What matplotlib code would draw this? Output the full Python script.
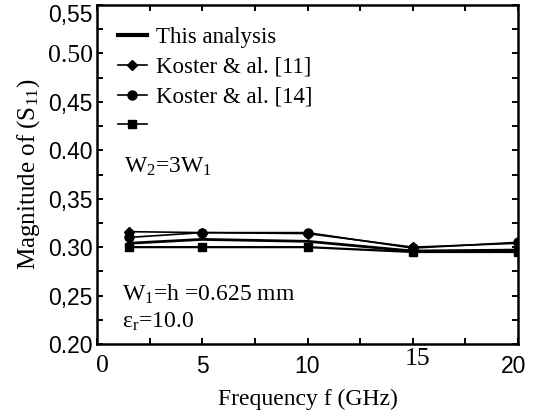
import matplotlib

matplotlib.use("Agg")
import matplotlib.pyplot as plt
from matplotlib.lines import Line2D
from matplotlib.transforms import ScaledTranslation

# values
freq = [1.5, 5, 10, 15, 20]
this_analysis = [0.304, 0.308, 0.306, 0.296, 0.297]
koster_11 = [0.316, 0.315, 0.314, 0.300, 0.304]
koster_14 = [0.310, 0.315, 0.315, 0.299, 0.305]
fourth = [0.300, 0.300, 0.300, 0.295, 0.295]

x_ticks = [0, 5, 10, 15, 20]
x_labels = ["0", "5", "10", "15", "20"]
y_ticks = [0.20, 0.25, 0.30, 0.35, 0.40, 0.45, 0.50, 0.55]
y_labels = ["0.20", "0,25", "0.30", "0,35", "0.40", "0,45", "0.50", "0,55"]

SERIF = "Liberation Serif"
SANS = "Liberation Sans"

plt.rcParams["font.family"] = SERIF
plt.rcParams["mathtext.fontset"] = "custom"
plt.rcParams["mathtext.rm"] = SERIF
plt.rcParams["mathtext.it"] = SERIF + ":italic"


def nudge(label, dx_px, dy_px):
    # shift a tick label by a few pixels, like in the original scan
    label.set_transform(label.get_transform()
                        + ScaledTranslation(dx_px / 100, dy_px / 100,
                                            fig.dpi_scale_trans))


fig = plt.figure(figsize=(5.42, 4.17), dpi=100)
ax = fig.add_axes([97 / 542, 73 / 417, 421 / 542, 339 / 417])

ax.plot(freq, koster_11, color="black", lw=1.2, marker="D", ms=5)
ax.plot(freq, koster_14, color="black", lw=1.2, marker="o", ms=6.5)
ax.plot(freq, this_analysis, color="black", lw=2.0)
ax.plot(freq, fourth, color="black", lw=1.6, marker="s", ms=6)

ax.set_xlim(0, 20)
ax.set_ylim(0.20, 0.55)

for s in ax.spines.values():
    s.set_linewidth(1.8)

ax.set_xticks(x_ticks, x_labels)
ax.set_xticks([2.5, 7.5, 12.5, 17.5], minor=True)
ax.set_yticks(y_ticks, y_labels)
ax.set_yticks([0.225, 0.275, 0.325, 0.375, 0.425, 0.475, 0.525], minor=True)
ax.tick_params(which="both", direction="in", top=True, right=True,
               length=4, width=1.4, labelsize=16.5)
ax.tick_params(axis="x", pad=8)
ax.tick_params(axis="y", pad=3)

# the original mixes fonts in the tick labels
for lab in ax.get_yticklabels():
    if lab.get_text() == "0.50":
        lab.set_fontfamily(SERIF)
        lab.set_fontsize(18.5)
    else:
        lab.set_fontfamily(SANS)
    if lab.get_text() == "0,55":
        nudge(lab, 0, -8)
for lab in ax.get_xticklabels():
    if lab.get_text() in ("0", "15"):
        lab.set_fontfamily(SERIF)
        lab.set_fontsize(18.5)
    else:
        lab.set_fontfamily(SANS)
    if lab.get_text() == "0":
        nudge(lab, 5, 0)
    if lab.get_text() == "15":
        nudge(lab, 5, 7)
    if lab.get_text() == "20":
        nudge(lab, -4, 0)

ax.set_xlabel("Frequency f (GHz)", fontsize=17, labelpad=8)
ax.set_ylabel(r"Magnitude of (S$_{\mathrm{11}}$)", fontsize=18, labelpad=4)

handles = [
    Line2D([], [], color="black", lw=3),
    Line2D([], [], color="black", lw=1.2, marker="D", ms=5),
    Line2D([], [], color="black", lw=1.2, marker="o", ms=6.5),
    Line2D([], [], color="black", lw=1.2, marker="s", ms=6),
]
labels = ["This analysis", "Koster & al. [11]", "Koster & al. [14]", ""]
ax.legend(handles, labels, loc="upper left", bbox_to_anchor=(0.05, 0.935),
          frameon=False, fontsize=16.5, handlelength=1.25, handletextpad=0.4,
          labelspacing=0.38, borderpad=0, borderaxespad=0)

ax.text(0.065, 0.522, r"W$_\mathrm{2}$=3W$_\mathrm{1}$", transform=ax.transAxes,
        fontsize=17, va="center")
ax.text(0.06, 0.145, r"W$_\mathrm{1}$=h =0.625 mm", transform=ax.transAxes,
        fontsize=17, va="center")
ax.text(0.06, 0.065, r"ε$_\mathrm{r}$=10.0", transform=ax.transAxes,
        fontsize=17, va="center")

fig.savefig("out.png", dpi=100)
